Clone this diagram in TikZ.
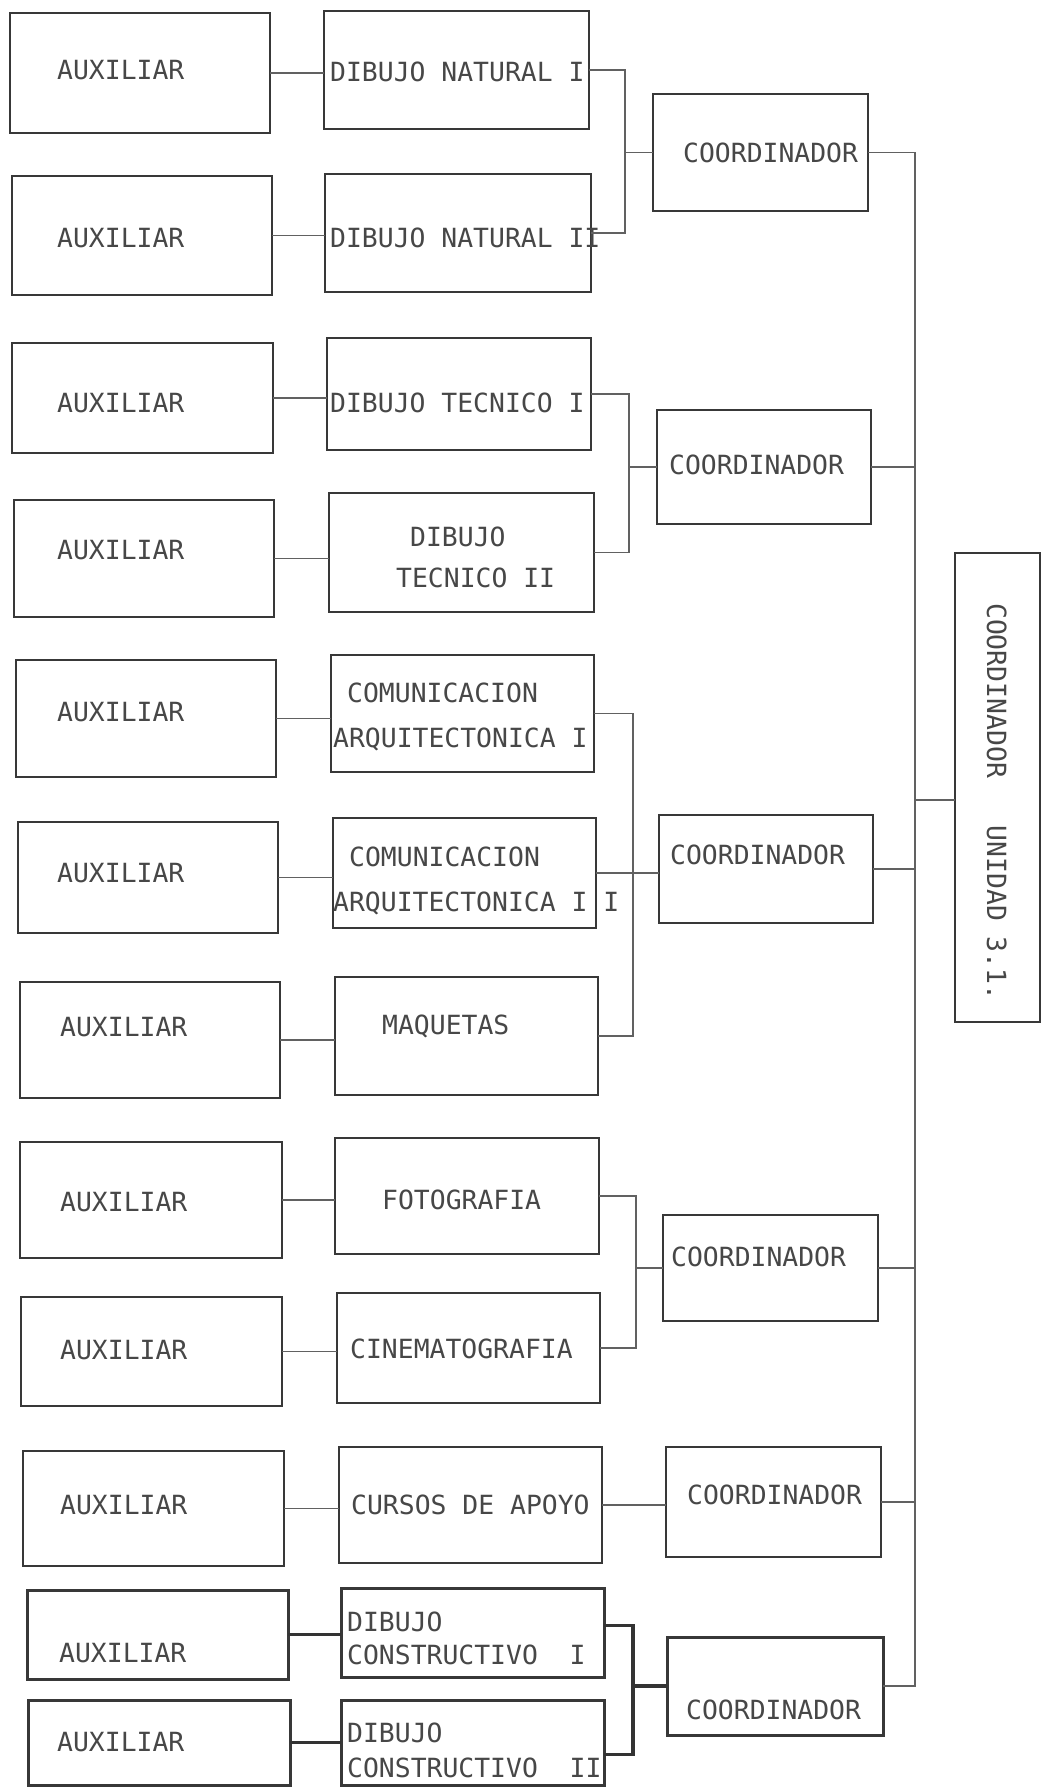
\documentclass[tikz,border=0pt]{standalone}
\usepackage{fontspec}
\newfontfamily\tw{DejaVu Sans Mono}
\usetikzlibrary{fit}
\begin{document}
\begin{tikzpicture}[x=1pt,y=-1pt,
  box/.style={draw=black!78,line width=2.2pt,inner sep=0pt,outer sep=0pt,rectangle},
  thickbox/.style={box,line width=3pt},
  conn/.style={draw=black!62,line width=1.6pt},
  thickconn/.style={draw=black!80,line width=3.2pt},
  txt/.style={anchor=base west,inner sep=0pt,text=black!72,font=\tw\fontsize{26.4}{30}\selectfont}]
\fill[white] (0,0) rectangle (1042,1789);
\path[use as bounding box] (0,0) rectangle (1042,1789);
\newcommand\bx[6][box]{\node[#1,fit={(#3,#4) (#5,#6)}] (#2) {};}
\newcommand\tx[4]{\node[txt] (#1) at (#2,#3+9.6) {#4};}
% ---------- group 1
\bx{aux1}{10}{13}{270}{133}   \tx{aux1t}{57}{70}{AUXILIAR}
\bx{aux2}{12}{176}{272}{295}  \tx{aux2t}{57}{238}{AUXILIAR}
\bx{dn1}{324}{11}{589}{129}   \tx{dn1t}{330}{72}{DIBUJO NATURAL I}
\bx{dn2}{325}{174}{591}{292}  \tx{dn2t}{330}{238}{DIBUJO NATURAL II}
\bx{c1}{653}{94}{868}{211}    \tx{c1t}{683}{153}{COORDINADOR}
% ---------- group 2
\bx{aux3}{12}{343}{273}{453}  \tx{aux3t}{57}{403}{AUXILIAR}
\bx{aux4}{14}{500}{274}{617}  \tx{aux4t}{57}{550}{AUXILIAR}
\bx{dt1}{327}{338}{591}{450}  \tx{dt1t}{330}{403}{DIBUJO TECNICO I}
\bx{dt2}{329}{493}{594}{612}  \tx{dt2a}{410}{537}{DIBUJO}
                              \tx{dt2b}{396}{578}{TECNICO II}
\bx{c2}{657}{410}{871}{524}   \tx{c2t}{669}{465}{COORDINADOR}
% ---------- group 3
\bx{aux5}{16}{660}{276}{777}  \tx{aux5t}{57}{712}{AUXILIAR}
\bx{aux6}{18}{822}{278}{933}  \tx{aux6t}{57}{873}{AUXILIAR}
\bx{aux7}{20}{982}{280}{1098} \tx{aux7t}{60}{1027}{AUXILIAR}
\bx{ca1}{331}{655}{594}{772}  \tx{ca1a}{347}{693}{COMUNICACION}
                              \tx{ca1b}{333}{738}{ARQUITECTONICA I}
\bx{ca2}{333}{818}{596}{928}  \tx{ca2a}{349}{857}{COMUNICACION}
                              \tx{ca2b}{333}{902}{ARQUITECTONICA I I}
\bx{maq}{335}{977}{598}{1095} \tx{maqt}{382}{1025}{MAQUETAS}
\bx{c3}{659}{815}{873}{923}   \tx{c3t}{670}{855}{COORDINADOR}
% ---------- group 4
\bx{aux8}{20}{1142}{282}{1258} \tx{aux8t}{60}{1202}{AUXILIAR}
\bx{aux9}{21}{1297}{282}{1406} \tx{aux9t}{60}{1350}{AUXILIAR}
\bx{foto}{335}{1138}{599}{1254} \tx{fotot}{382}{1200}{FOTOGRAFIA}
\bx{cine}{337}{1293}{600}{1403} \tx{cinet}{350}{1349}{CINEMATOGRAFIA}
\bx{c4}{663}{1215}{878}{1321}  \tx{c4t}{671}{1257}{COORDINADOR}
% ---------- group 5
\bx{aux10}{23}{1451}{284}{1566} \tx{aux10t}{60}{1505}{AUXILIAR}
\bx{cur}{339}{1447}{602}{1563}  \tx{curt}{351}{1505}{CURSOS DE APOYO}
\bx{cc}{666}{1447}{881}{1557}   \tx{cct}{687}{1495}{COORDINADOR}
% ---------- group 6
\bx[thickbox]{aux11}{27}{1590}{288}{1679} \tx{aux11t}{59}{1653}{AUXILIAR}
\bx[thickbox]{dc1}{341}{1588}{604}{1677}  \tx{dc1a}{347}{1622}{DIBUJO}
                                          \tx{dc1b}{347}{1655}{CONSTRUCTIVO\ \ I}
\bx[thickbox]{aux12}{28}{1700}{290}{1785} \tx{aux12t}{57}{1742}{AUXILIAR}
\bx[thickbox]{dc2}{341}{1700}{604}{1785}  \tx{dc2a}{347}{1733}{DIBUJO}
                                          \tx{dc2b}{347}{1768}{CONSTRUCTIVO\ \ II}
\bx[thickbox]{c5}{667}{1637}{883}{1735}   \tx{c5t}{686}{1710}{COORDINADOR}
% ---------- big box
\bx{bb}{955}{553}{1040}{1022}
\node[txt,rotate=-90] (bbt) at (987,603) {COORDINADOR\ \ \ UNIDAD\ 3.1.};
% ---------- connectors auxiliar -> course
\foreach \a/\b in {aux1/dn1,aux2/dn2,aux3/dt1,aux4/dt2,aux5/ca1,aux6/ca2,aux7/maq,aux8/foto,aux9/cine,aux10/cur}
  \draw[conn] (\a.east) -- (\a.east -| \b.west);
\draw[thickconn] (aux11.east) -- (aux11.east -| dc1.west);
\draw[thickconn] (aux12.east) -- (aux12.east -| dc2.west);
% ---------- brackets
\coordinate (x1) at (625,0);
\draw[conn] (dn1.east) -- (dn1.east -| x1) -- (dn2.east -| x1) -- (dn2.east);
\draw[conn] (c1.west -| x1) -- (c1.west);
\coordinate (x2) at (629,0);
\draw[conn] (dt1.east) -- (dt1.east -| x2) -- (dt2.east -| x2) -- (dt2.east);
\draw[conn] (c2.west -| x2) -- (c2.west);
\coordinate (x3) at (633,0);
\draw[conn] (ca1.east) -- (ca1.east -| x3) -- (maq.east -| x3) -- (maq.east);
\draw[conn] (ca2.east) -- (ca2.east -| c3.west);
\coordinate (x4) at (636,0);
\draw[conn] (foto.east) -- (foto.east -| x4) -- (cine.east -| x4) -- (cine.east);
\draw[conn] (c4.west -| x4) -- (c4.west);
\draw[conn] (cur.east) -- (cur.east -| cc.west);
\coordinate (x5) at (633,0);
\draw[thickconn] ([yshift=7pt]dc1.east) -- ([yshift=7pt]dc1.east -| x5) -- ([yshift=-12pt]dc2.east -| x5) -- ([yshift=-12pt]dc2.east);
\draw[thickconn] (c5.west -| x5) -- (c5.west);
% ---------- main line
\coordinate (mx) at (915,0);
\draw[conn] (c1.east) -- (c1.east -| mx) -- (c5.east -| mx) -- (c5.east);
\foreach \c in {c2,c3,c4,cc}
  \draw[conn] (\c.east) -- (\c.east -| mx);
\draw[conn] ([yshift=-12.5pt]bb.west -| mx) -- ([yshift=-12.5pt]bb.west);
\end{tikzpicture}
\end{document}
